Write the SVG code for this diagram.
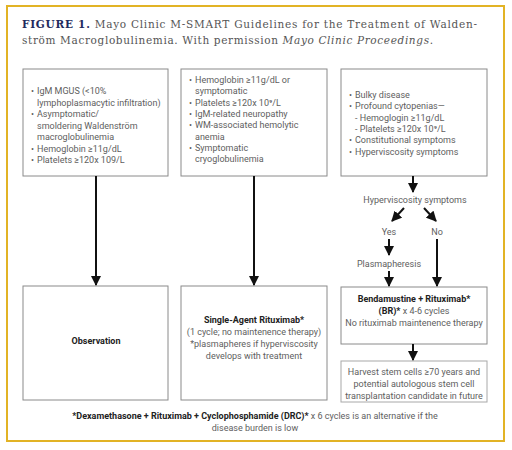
<svg xmlns="http://www.w3.org/2000/svg" width="512" height="450" viewBox="0 0 512 450">
<style>
.frame{fill:#fff;stroke:#e2b325;stroke-width:2}
.box{fill:#fff;stroke:#8a8a8a;stroke-width:1}
.box2{fill:#fff;stroke:#a8a8a8;stroke-width:1}
.t{font-family:Roboto,"Liberation Sans",sans-serif;font-size:9px;fill:#5e5e5e}
.c{text-anchor:middle}
.b{font-weight:bold;fill:#222}
.title{font-family:"DejaVu Serif","Liberation Serif",serif;font-size:10.5px;fill:#555}
.fig{font-weight:bold;fill:#1f2b5e}
.ln{stroke:#111;stroke-width:2;fill:none}
</style>
<defs>
<marker id="ah" viewBox="0 0 10 10" refX="9" refY="5" markerWidth="5.2" markerHeight="5.2" orient="auto" markerUnits="strokeWidth">
<path d="M0,0 L10,5 L0,10 z" fill="#111"/>
</marker>
</defs>
<rect width="512" height="450" fill="#fff"/>
<rect class="frame" x="7" y="6" width="497" height="435"/>
<g id="title">
<text class="title" x="22" y="28" textLength="455" lengthAdjust="spacing"><tspan class="fig">FIGURE 1.</tspan> Mayo Clinic M-SMART Guidelines for the Treatment of Walden-</text>
<text class="title" x="22" y="44" textLength="411" lengthAdjust="spacing">ström Macroglobulinemia. With permission <tspan font-style="italic">Mayo Clinic Proceedings</tspan>.</text>
</g>
<g id="n1">
<rect class="box" x="23" y="69" width="145" height="107"/>
<text class="t"><tspan x="31" y="94">•</tspan><tspan x="37" y="94">IgM MGUS (&lt;10%</tspan><tspan x="37" y="105.5">lymphoplasmacytic  infiltration)</tspan><tspan x="31" y="117">•</tspan><tspan x="37" y="117">Asymptomatic/</tspan><tspan x="37" y="128.5">smoldering Waldenström</tspan><tspan x="37" y="140">macroglobulinemia</tspan><tspan x="31" y="151.5">•</tspan><tspan x="37" y="151.5">Hemoglobin ≥11g/dL</tspan><tspan x="31" y="163">•</tspan><tspan x="37" y="163">Platelets ≥120x 109/L</tspan></text>
</g>
<g id="n2">
<rect class="box" x="181" y="69" width="146" height="107"/>
<text class="t"><tspan x="189" y="83">•</tspan><tspan x="195" y="83">Hemoglobin ≥11g/dL or</tspan><tspan x="195" y="94.3">symptomatic</tspan><tspan x="189" y="105.6">•</tspan><tspan x="195" y="105.6">Platelets ≥120x 10⁹/L</tspan><tspan x="189" y="117">•</tspan><tspan x="195" y="117">IgM-related neuropathy</tspan><tspan x="189" y="128.3">•</tspan><tspan x="195" y="128.3">WM-associated hemolytic</tspan><tspan x="195" y="139.6">anemia</tspan><tspan x="189" y="151">•</tspan><tspan x="195" y="151">Symptomatic</tspan><tspan x="195" y="162.3">cryoglobulinemia</tspan></text>
</g>
<g id="n3">
<rect class="box" x="341" y="69" width="146" height="107"/>
<text class="t"><tspan x="349" y="98">•</tspan><tspan x="355" y="98">Bulky disease</tspan><tspan x="349" y="109.3">•</tspan><tspan x="355" y="109.3">Profound cytopenias—</tspan><tspan x="355" y="120.6">- Hemoglogin ≥11g/dL</tspan><tspan x="355" y="132">- Platelets ≥120x 10⁹/L</tspan><tspan x="349" y="143.3">•</tspan><tspan x="355" y="143.3">Constitutional symptoms</tspan><tspan x="349" y="154.6">•</tspan><tspan x="355" y="154.6">Hyperviscosity symptoms</tspan></text>
</g>
<g id="hv">
<text class="t c" x="415" y="203">Hyperviscosity symptoms</text>
</g>
<g id="yes"><text class="t c" x="389" y="235">Yes</text></g>
<g id="no"><text class="t c" x="437" y="235">No</text></g>
<g id="plasma"><text class="t c" x="389" y="267">Plasmapheresis</text></g>
<g id="n4">
<rect class="box" x="23" y="286" width="145" height="114"/>
<text class="t b c" x="96" y="344">Observation</text>
</g>
<g id="n5">
<rect class="box" x="181" y="286" width="146" height="114"/>
<text class="t c"><tspan class="b" x="254" y="323">Single-Agent Rituximab*</tspan><tspan x="254" y="335">(1 cycle; no maintenence therapy)</tspan><tspan x="254" y="347">*plasmapheres if hyperviscosity</tspan><tspan x="254" y="359">develops with treatment</tspan></text>
</g>
<g id="n6">
<rect class="box" x="341" y="287" width="146" height="57"/>
<text class="t c"><tspan class="b" x="414" y="302">Bendamustine + Rituximab*</tspan><tspan x="414" y="314"><tspan class="b">(BR)*</tspan> x 4-6 cycles</tspan><tspan x="414" y="326">No rituximab maintenence therapy</tspan></text>
</g>
<g id="n7">
<rect class="box2" x="341" y="361" width="146" height="41"/>
<text class="t c"><tspan x="414" y="375">Harvest stem cells ≥70 years and</tspan><tspan x="414" y="387">potential autologous stem cell</tspan><tspan x="414" y="399">transplantation  candidate in future</tspan></text>
</g>
<g id="foot">
<text class="t c" x="255" y="419"><tspan class="b">*Dexamethasone + Rituximab + Cyclophosphamide (DRC)*</tspan> x 6 cycles is an alternative if the</text>
<text class="t c" x="255" y="431">disease burden is low</text>
</g>
<g id="connectors">
<line class="ln" x1="96" y1="176" x2="96" y2="285" marker-end="url(#ah)"/>
<line class="ln" x1="254" y1="176" x2="254" y2="285" marker-end="url(#ah)"/>
<line class="ln" x1="413" y1="176" x2="413" y2="192" marker-end="url(#ah)"/>
<line class="ln" x1="404" y1="208" x2="392" y2="221" marker-end="url(#ah)"/>
<line class="ln" x1="424" y1="208" x2="436" y2="221" marker-end="url(#ah)"/>
<line class="ln" x1="389" y1="239" x2="389" y2="255" marker-end="url(#ah)"/>
<line class="ln" x1="389" y1="271" x2="389" y2="286" marker-end="url(#ah)"/>
<line class="ln" x1="437" y1="239" x2="437" y2="286" marker-end="url(#ah)"/>
<line class="ln" x1="413" y1="344" x2="413" y2="360" marker-end="url(#ah)"/>
</g>
</svg>
